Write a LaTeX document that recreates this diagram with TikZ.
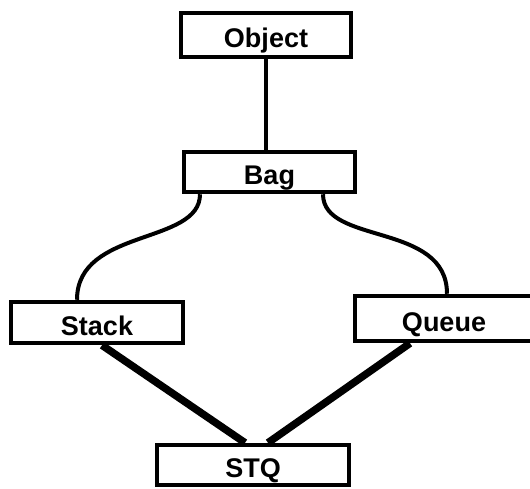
\documentclass[tikz,border=0pt]{standalone}
\usepackage{fontspec}
\setmainfont{Liberation Sans}
\usepackage{tikz}
\usetikzlibrary{positioning,calc}

\begin{document}
\begin{tikzpicture}[x=1pt, y=-1pt,
    classbox/.style={draw, line width=4.5pt, inner sep=0pt, text height=25pt, text depth=0pt,
      font=\bfseries\fontsize{27}{27}\selectfont},
    link/.style={line width=4pt},
    heavylink/.style={line width=7.5pt}]
  \useasboundingbox (0,0) rectangle (530,488);
  \begin{scope}
  \clip (0,0) rectangle (530,488);
  \node[classbox, minimum width=170pt, minimum height=44pt] (object) at (266,35)    {Object};
  \node[classbox, minimum width=171pt, minimum height=40pt] (bag)    at (269.5,172) {Bag};
  \node[classbox, minimum width=172pt, minimum height=41pt] (stack)  at (97,322.5)  {Stack};
  \node[classbox, minimum width=178pt, minimum height=45pt] (queue)  at (444,318.5) {Queue};
  \node[classbox, minimum width=192pt, minimum height=40pt] (stq)    at (253,465)   {STQ};

  % --- inheritance links ---
  \draw[link] (object.south) -- (object.south |- bag.north);
  \draw[link] ([xshift=-69.5pt]bag.south) .. controls +(0,51) and +(0,-72) .. ([xshift=-20pt]stack.north);
  \draw[link] ([xshift=53.5pt]bag.south) .. controls +(0,51) and +(0,-72) .. ([xshift=3pt]queue.north);
  % --- heavy links into STQ ---
  \draw[heavylink] ([xshift=5pt]stack.south) -- ([xshift=-8pt]stq.north);
  \draw[heavylink] ([xshift=-34pt]queue.south) -- ([xshift=15pt]stq.north);
  \end{scope}
\end{tikzpicture}
\end{document}
